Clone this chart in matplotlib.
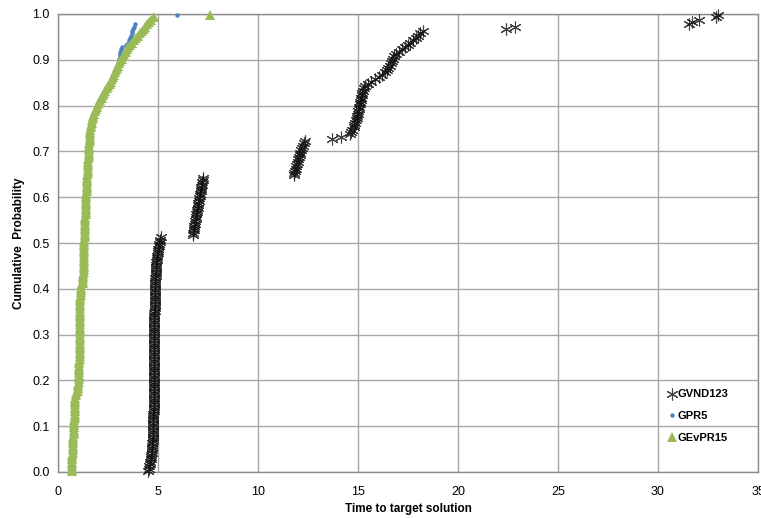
import matplotlib
matplotlib.use("Agg")
import matplotlib.pyplot as plt
import numpy as np

plt.rcParams['font.family'] = ['Liberation Sans', 'DejaVu Sans']

series_names = ["GVND123", "GPR5", "GEvPR15"]

# sorted times to target (seconds) for each algorithm
gvnd123_times = [
    4.52, 4.55, 4.57, 4.59, 4.61, 4.63, 4.65, 4.66, 4.68, 4.69,
    4.70, 4.71, 4.72, 4.73, 4.73, 4.74, 4.74, 4.75, 4.75, 4.76,
    4.76, 4.76, 4.77, 4.77, 4.77, 4.77, 4.78, 4.78, 4.78, 4.78,
    4.78, 4.78, 4.78, 4.79, 4.79, 4.79, 4.79, 4.79, 4.79, 4.79,
    4.79, 4.80, 4.80, 4.80, 4.80, 4.80, 4.80, 4.80, 4.80, 4.80,
    4.80, 4.81, 4.81, 4.81, 4.81, 4.81, 4.81, 4.81, 4.81, 4.81,
    4.81, 4.82, 4.82, 4.82, 4.82, 4.82, 4.82, 4.82, 4.82, 4.82,
    4.83, 4.83, 4.83, 4.83, 4.83, 4.84, 4.84, 4.84, 4.85, 4.85,
    4.85, 4.86, 4.86, 4.87, 4.87, 4.88, 4.88, 4.89, 4.89, 4.90,
    4.91, 4.92, 4.93, 4.94, 4.96, 4.98, 5.00, 5.02, 5.04, 5.06,
    5.08, 5.11, 5.14,
    6.74, 6.77, 6.78, 6.81, 6.82, 6.85, 6.86, 6.88, 6.91, 6.92,
    6.94, 6.97, 6.98, 7.00, 7.02, 7.05, 7.06, 7.08, 7.10, 7.13,
    7.14, 7.16, 7.18, 7.20, 7.23, 7.26,
    11.78, 11.82, 11.85, 11.88, 11.92, 11.95, 11.98, 12.02, 12.05, 12.08,
    12.12, 12.15, 12.19, 12.23, 12.28, 12.34,
    13.70, 14.15,
    14.60, 14.66, 14.72, 14.78, 14.82, 14.86, 14.90, 14.93, 14.96, 14.99,
    15.02, 15.05, 15.07, 15.10, 15.12, 15.15, 15.17, 15.19, 15.21, 15.24,
    15.28, 15.35, 15.48, 15.65, 15.85, 16.05, 16.22, 16.35, 16.45, 16.52,
    16.58, 16.63, 16.68, 16.73, 16.80, 16.92, 17.05, 17.20, 17.35, 17.50,
    17.62, 17.75, 17.88, 18.00, 18.12, 18.25,
    22.40, 22.85,
    31.55, 31.70, 32.05, 32.90, 33.00,
]

gpr5_times = [
    0.64, 0.65, 0.66, 0.67, 0.68, 0.68, 0.69, 0.69, 0.70, 0.70,
    0.71, 0.71, 0.72, 0.72, 0.73, 0.73, 0.74, 0.76, 0.77, 0.78,
    0.79, 0.79, 0.80, 0.80, 0.81, 0.81, 0.82, 0.82, 0.83, 0.83,
    0.84, 0.84, 0.85, 0.86, 0.90, 0.96, 0.98, 0.99, 1.00, 1.00,
    1.01, 1.01, 1.02, 1.02, 1.03, 1.03, 1.04, 1.04, 1.05, 1.05,
    1.05, 1.06, 1.06, 1.06, 1.07, 1.07, 1.07, 1.07, 1.07, 1.07,
    1.08, 1.08, 1.08, 1.08, 1.08, 1.08, 1.08, 1.09, 1.09, 1.09,
    1.09, 1.09, 1.09, 1.10, 1.10, 1.10, 1.10, 1.11, 1.11, 1.12,
    1.13, 1.15, 1.20, 1.22, 1.23, 1.24, 1.24, 1.25, 1.25, 1.26,
    1.26, 1.26, 1.27, 1.27, 1.27, 1.28, 1.28, 1.28, 1.29, 1.29,
    1.29, 1.30, 1.30, 1.31, 1.31, 1.32, 1.32, 1.33, 1.33, 1.34,
    1.34, 1.35, 1.35, 1.36, 1.36, 1.37, 1.37, 1.38, 1.38, 1.39,
    1.39, 1.40, 1.40, 1.41, 1.41, 1.42, 1.42, 1.43, 1.43, 1.44,
    1.45, 1.45, 1.46, 1.47, 1.47, 1.48, 1.49, 1.50, 1.50, 1.51,
    1.52, 1.52, 1.53, 1.54, 1.55, 1.55, 1.56, 1.57, 1.58, 1.59,
    1.60, 1.62, 1.65, 1.68, 1.71, 1.74, 1.79, 1.84, 1.89, 1.94,
    1.98, 2.03, 2.09, 2.15, 2.21, 2.27, 2.34, 2.41, 2.48, 2.55,
    2.60, 2.65, 2.70, 2.75, 2.80, 2.85, 2.90, 2.95, 3.00, 3.04,
    3.06, 3.08, 3.10, 3.12, 3.15, 3.18, 3.42, 3.48, 3.55, 3.61,
    3.64, 3.68, 3.72, 3.76, 3.80, 3.85, 4.50, 4.62, 4.75, 5.97,
]

gevpr15_times = [
    0.68, 0.69, 0.70, 0.70, 0.71, 0.71, 0.72, 0.72, 0.73, 0.73,
    0.74, 0.74, 0.75, 0.75, 0.76, 0.76, 0.79, 0.80, 0.80, 0.81,
    0.81, 0.82, 0.82, 0.83, 0.83, 0.84, 0.84, 0.85, 0.85, 0.86,
    0.86, 0.87, 0.87, 0.88, 0.88, 1.00, 1.01, 1.02, 1.02, 1.03,
    1.03, 1.04, 1.04, 1.05, 1.05, 1.06, 1.06, 1.07, 1.07, 1.08,
    1.08, 1.08, 1.09, 1.09, 1.09, 1.10, 1.10, 1.10, 1.10, 1.10,
    1.10, 1.10, 1.10, 1.10, 1.10, 1.10, 1.11, 1.11, 1.11, 1.11,
    1.11, 1.11, 1.11, 1.12, 1.12, 1.12, 1.12, 1.13, 1.13, 1.14,
    1.15, 1.16, 1.25, 1.26, 1.26, 1.27, 1.27, 1.28, 1.28, 1.29,
    1.29, 1.29, 1.30, 1.30, 1.30, 1.30, 1.31, 1.31, 1.31, 1.31,
    1.32, 1.32, 1.33, 1.33, 1.34, 1.34, 1.35, 1.35, 1.36, 1.36,
    1.37, 1.37, 1.38, 1.38, 1.39, 1.39, 1.40, 1.40, 1.41, 1.41,
    1.42, 1.42, 1.43, 1.43, 1.44, 1.44, 1.45, 1.45, 1.46, 1.47,
    1.48, 1.48, 1.49, 1.50, 1.50, 1.51, 1.52, 1.53, 1.53, 1.54,
    1.55, 1.55, 1.56, 1.57, 1.58, 1.58, 1.59, 1.60, 1.61, 1.62,
    1.63, 1.65, 1.68, 1.71, 1.74, 1.77, 1.82, 1.87, 1.92, 1.97,
    2.01, 2.06, 2.12, 2.18, 2.24, 2.30, 2.37, 2.44, 2.51, 2.58,
    2.63, 2.68, 2.73, 2.78, 2.83, 2.88, 2.94, 3.00, 3.06, 3.12,
    3.18, 3.24, 3.31, 3.38, 3.45, 3.52, 3.60, 3.70, 3.80, 3.90,
    4.02, 4.12, 4.20, 4.28, 4.36, 4.44, 4.55, 4.66, 4.80, 7.60,
]

x_ticks = [0, 5, 10, 15, 20, 25, 30, 35]
y_ticks = [0.0, 0.1, 0.2, 0.3, 0.4, 0.5, 0.6, 0.7, 0.8, 0.9, 1.0]


def ecdf(times):
    t = np.sort(np.asarray(times, dtype=float))
    n = len(t)
    p = (np.arange(1, n + 1) - 0.5) / n
    return t, p


W, H = 761, 518
fig = plt.figure(figsize=(W / 100, H / 100), dpi=100)
ax = fig.add_axes([58 / W, (H - 472) / H, 700 / W, 458 / H])

star = (6, 2, 0)
t, p = ecdf(gvnd123_times)
ax.plot(t, p, linestyle='none', marker=star, markersize=8.5,
        markeredgewidth=0.8, color='#111111', alpha=0.8,
        label=series_names[0], clip_on=False, zorder=3)
t, p = ecdf(gpr5_times)
ax.plot(t, p, linestyle='none', marker='o', markersize=3.2,
        markeredgewidth=0, color='#4F81BD',
        label=series_names[1], clip_on=False, zorder=3)
t, p = ecdf(gevpr15_times)
ax.plot(t, p, linestyle='none', marker='^', markersize=6.5,
        markeredgewidth=0, color='#9BBB59',
        label=series_names[2], clip_on=False, zorder=4)

ax.set_xlim(0, 35)
ax.set_ylim(0, 1.0)
ax.set_xticks(x_ticks)
ax.set_xticklabels([str(v) for v in x_ticks])
ax.set_yticks(y_ticks)
ax.set_yticklabels([f"{v:.1f}" for v in y_ticks])
ax.tick_params(length=0, labelsize=9, pad=10, colors='#000000')
ax.tick_params(axis='y', pad=6)
ax.grid(True, color='#a6a6a6', linewidth=1.0)
ax.set_axisbelow(True)
for s in ax.spines.values():
    s.set_color('#8c8c8c')
    s.set_linewidth(1.0)

ax.set_xlabel("Time to target solution", fontsize=8.5, fontweight='bold', labelpad=4)
ax.set_ylabel("Cumulative  Probability", fontsize=8.5, fontweight='bold', labelpad=5)

leg = ax.legend(loc='center left', bbox_to_anchor=(0.866, 0.122), frameon=False,
                handlelength=0.6, handletextpad=0.2, labelspacing=1.05,
                prop={'weight': 'bold', 'size': 8}, borderaxespad=0)

fig.savefig("out.png", dpi=100)
